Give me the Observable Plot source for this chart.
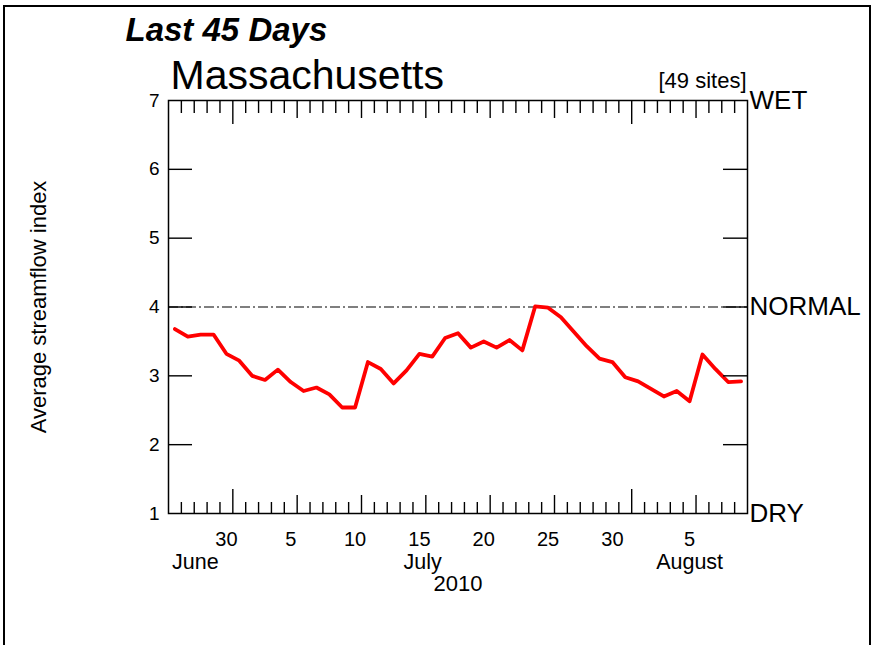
<!DOCTYPE html>
<html>
<head>
<meta charset="utf-8">
<script src="https://cdn.jsdelivr.net/npm/d3@7"></script>
<script src="https://cdn.jsdelivr.net/npm/@observablehq/plot@0.6"></script>
<style>
  html, body { margin: 0; padding: 0; background: #fff; overflow: hidden; }
  #wrap { position: relative; width: 874px; height: 645px; }
  #border { position: absolute; left: 3px; top: 5px; width: 868px; height: 700px; border: 2px solid #000; box-sizing: border-box; pointer-events: none; }
  #chart { position: absolute; left: 0; top: 0; }
</style>
</head>
<body>
<div id="wrap"><div id="chart"></div><div id="border"></div></div>
<script>
// ---- data ----
const startDay = "2010-06-26";
const endDay = "2010-08-10"; // exclusive
// Average streamflow index, one value per day from June 26 to August 9, 2010
const values = [
  3.68, 3.57, 3.60, 3.60, 3.32,                                 // Jun 26-30
  3.22, 3.00, 2.94, 3.09, 2.91, 2.78, 2.83, 2.73, 2.54, 2.54,   // Jul 1-10
  3.20, 3.10, 2.89, 3.08, 3.32, 3.28, 3.55, 3.62, 3.41, 3.50,   // Jul 11-20
  3.41, 3.52, 3.37, 4.01, 3.99, 3.85, 3.64, 3.43, 3.25, 3.20,   // Jul 21-30
  2.98,                                                         // Jul 31
  2.92, 2.81, 2.70, 2.78, 2.63, 3.31, 3.10, 2.91, 2.92          // Aug 1-9
];
const yTickValues = [1, 2, 3, 4, 5, 6, 7];
const innerYTicks = [2, 3, 4, 5, 6];
const normalLevel = [4];
const sideLabels = ["WET", "NORMAL", "DRY"];
const sideLevels = [7, 4, 1];
const dayLabelDates = ["2010-06-30", "2010-07-05", "2010-07-10", "2010-07-15", "2010-07-20", "2010-07-25", "2010-07-30", "2010-08-05"];
const dayLabels = ["30", "5", "10", "15", "20", "25", "30", "5"];
const monthLabels = ["June", "July", "August"];
const monthLabelDates = ["2010-06-28T02:00Z", "2010-07-15T18:00Z", "2010-08-05T12:00Z"];
const yearLabel = ["2010"];
const yearLabelDate = ["2010-07-18T12:00Z"];
const titleText = "Last 45 Days";
const stateText = "Massachusetts";
const sitesText = "[49 sites]";
const yTitle = "Average streamflow index";

// ---- build ----
const x0 = new Date(startDay + "T00:00Z"), x1 = new Date(endDay + "T00:00Z");
const days = d3.utcDay.range(x0, x1);
const series = days.map((d, i) => ({date: d3.utcHour.offset(d, 12), value: values[i]}));
const boundaries = d3.utcDay.range(d3.utcDay.offset(x0, 1), x1);
const majorB = boundaries.filter(d => d.getUTCDate() === 1);
const mediumB = boundaries.filter(d => [6, 11, 16, 21, 26].includes(d.getUTCDate()));
const minorB = boundaries.filter(d => !majorB.includes(d) && !mediumB.includes(d));
const noon = s => d3.utcHour.offset(new Date(s + "T00:00Z"), 12);
const dayLab = dayLabelDates.map((s, i) => ({date: noon(s), text: dayLabels[i]}));
const monthLab = monthLabelDates.map((s, i) => ({date: new Date(s), text: monthLabels[i]}));
const yearLab = yearLabelDate.map((s, i) => ({date: new Date(s), text: yearLabel[i]}));
const sideLab = sideLabels.map((t, i) => ({y: sideLevels[i], text: t}));

const W = 874, H = 645, mL = 168, mR = 127, mT = 100, mB = 132;
const innerW = W - mL - mR, innerH = H - mT - mB;
const tickW = 1.4;
const botTick = (arr, len) => Plot.tickX(arr, {x: d => d, insetTop: innerH - len, stroke: "#000", strokeWidth: tickW});
const topTick = (arr, len) => Plot.tickX(arr, {x: d => d, insetBottom: innerH - len, stroke: "#000", strokeWidth: tickW});
const font = "'Liberation Sans', Arial, Helvetica, sans-serif";

const chart = Plot.plot({
  width: W, height: H,
  marginLeft: mL, marginRight: mR, marginTop: mT, marginBottom: mB,
  x: {type: "utc", domain: [x0, x1], axis: null},
  y: {domain: [1, 7], axis: null},
  style: {fontFamily: font, background: "transparent", color: "#000", overflow: "visible"},
  marks: [
    Plot.ruleY(normalLevel, {stroke: "#000", strokeWidth: 1.2, strokeDasharray: "10,3,2,3"}),
    Plot.line(series, {x: "date", y: "value", stroke: "#ff0000", strokeWidth: 3.8, strokeLinejoin: "round"}),
    botTick(minorB, 11), botTick(mediumB, 18), botTick(majorB, 24),
    topTick(minorB, 13), topTick(mediumB, 18), topTick(majorB, 24),
    Plot.tickY(innerYTicks, {y: d => d, insetRight: innerW - 24, stroke: "#000", strokeWidth: tickW}),
    Plot.tickY(innerYTicks, {y: d => d, insetLeft: innerW - 24, stroke: "#000", strokeWidth: tickW}),
    Plot.frame({stroke: "#000", strokeWidth: 1.5}),
    Plot.axisY(yTickValues, {anchor: "left", tickSize: 0, tickPadding: 9, fontSize: 19, label: null, tickFormat: d3.format("d")}),
    Plot.text(sideLab, {y: "y", text: "text", frameAnchor: "right", textAnchor: "start", dx: 2, lineAnchor: "middle", fontSize: 26}),
    Plot.text(dayLab, {x: "date", text: "text", frameAnchor: "bottom", lineAnchor: "bottom", dy: 32, fontSize: 20}),
    Plot.text(monthLab, {x: "date", text: "text", frameAnchor: "bottom", lineAnchor: "bottom", dy: 55, fontSize: 21.5}),
    Plot.text(yearLab, {x: "date", text: "text", frameAnchor: "bottom", lineAnchor: "bottom", dy: 77, fontSize: 22}),
    Plot.text([yTitle], {frameAnchor: "left", dx: -130, rotate: -90, textAnchor: "middle", lineAnchor: "middle", fontSize: 22}),
    Plot.text([stateText], {frameAnchor: "top-left", textAnchor: "start", lineAnchor: "bottom", dx: 2, dy: -12, fontSize: 41}),
    Plot.text([sitesText], {frameAnchor: "top-right", textAnchor: "end", lineAnchor: "bottom", dx: -1, dy: -13, fontSize: 22}),
    Plot.text([titleText], {frameAnchor: "top-left", textAnchor: "start", lineAnchor: "bottom", dx: -43, dy: -60, fontSize: 33, fontWeight: "bold", fontStyle: "italic"})
  ]
});
document.getElementById("chart").appendChild(chart);
</script>
</body>
</html>
